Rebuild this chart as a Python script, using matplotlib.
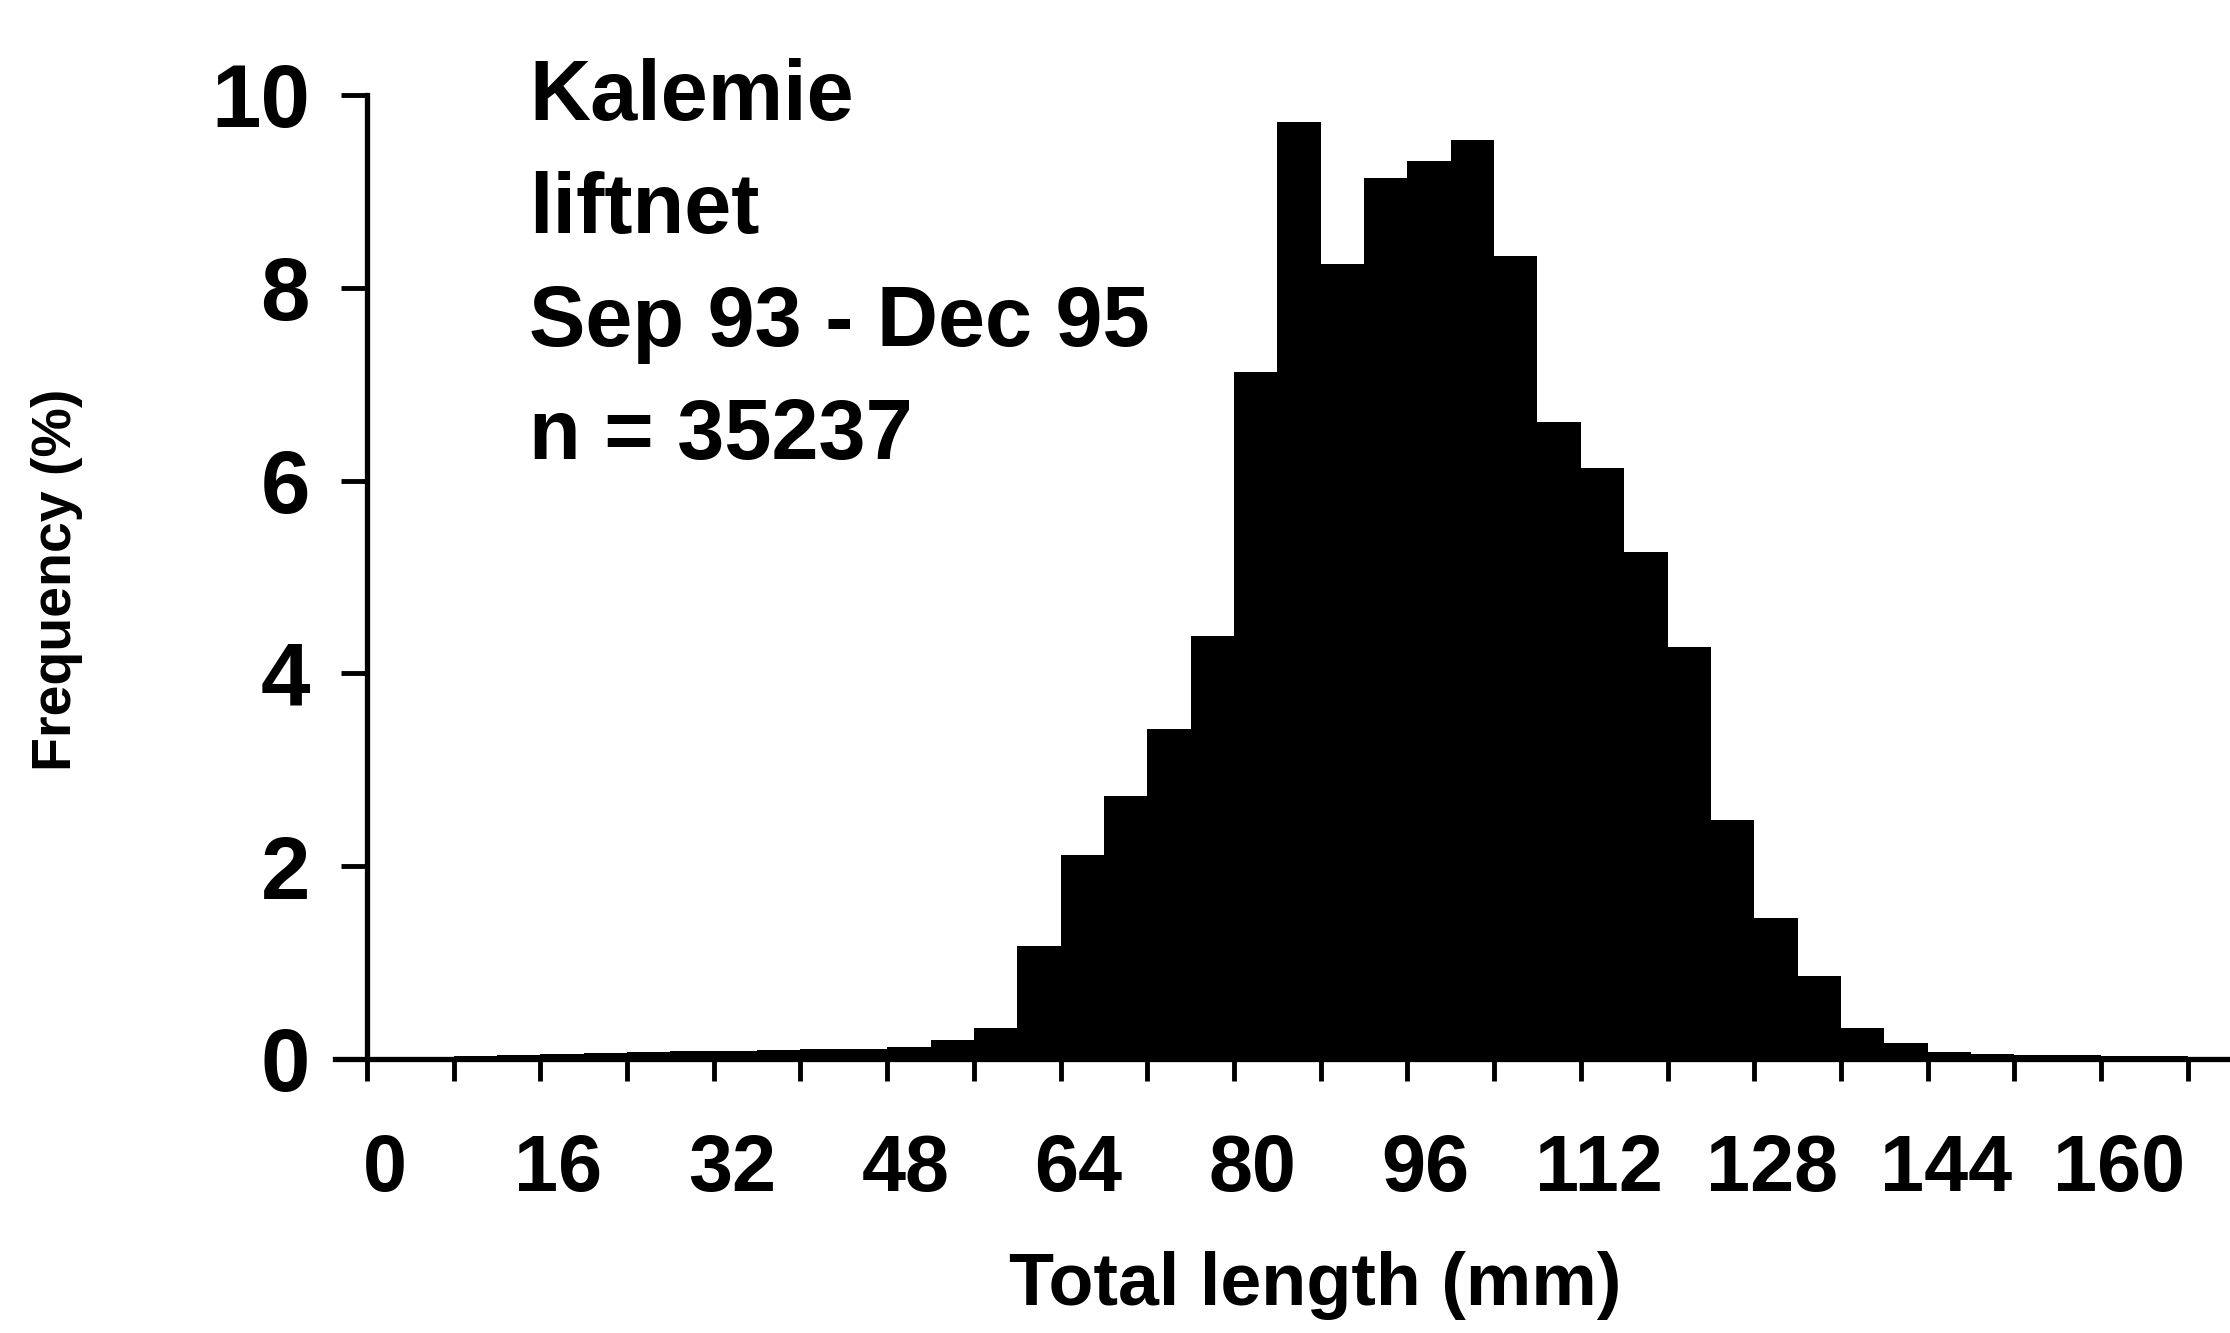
import numpy as np
import matplotlib
matplotlib.use("Agg")
import matplotlib.pyplot as plt
import matplotlib.transforms as mtransforms

# ── Data: length-frequency of the liftnet catch (4 mm classes) ──────────────
bin_start = list(range(0, 172, 4))
freq_pct = [0.02, 0.02, 0.03, 0.04, 0.05, 0.06, 0.07, 0.08, 0.08, 0.09,
            0.10, 0.10, 0.12, 0.20, 0.32, 1.17, 2.12, 2.73, 3.42, 4.39,
            7.13, 9.72, 8.25, 9.14, 9.32, 9.53, 8.33, 6.61, 6.13, 5.26,
            4.27, 2.48, 1.46, 0.86, 0.32, 0.17, 0.07, 0.05, 0.04, 0.04,
            0.03, 0.03, 0.02]
x_ticks = list(range(0, 169, 8))
x_labels = [str(t) if t % 16 == 0 and t <= 160 else "" for t in x_ticks]
y_ticks = [0, 2, 4, 6, 8, 10]
info_lines = ["Kalemie", "liftnet", "Sep 93 - Dec 95", "n = 35237"]

# ── Canvas ──────────────────────────────────────────────────────────────────
W, H, DPI = 2230, 1333, 100
FONT = ["Liberation Sans", "DejaVu Sans"]

fig = plt.figure(figsize=(W / DPI, H / DPI), dpi=DPI)
fig.patch.set_facecolor("white")
ax = fig.add_axes([335 / W, 1 - 1059 / H, 1 - 335 / W, (1059 - 95) / H])

ax.bar(bin_start, freq_pct, width=4, align="edge", color="black",
       edgecolor="none", zorder=2)

ax.set_xlim(-2.95, 171.9)
ax.set_ylim(0, 10)

for s in ["top", "right"]:
    ax.spines[s].set_visible(False)
ax.spines["left"].set_position(("data", 0))
ax.spines["left"].set_linewidth(3.8)
ax.spines["bottom"].set_linewidth(3.8)
ax.spines["left"].set_zorder(3)
ax.spines["bottom"].set_zorder(3)

ax.set_xticks(x_ticks)
ax.set_xticklabels(x_labels)
ax.set_yticks(y_ticks)
ax.set_yticklabels([str(v) for v in y_ticks])
ax.tick_params(axis="x", direction="out", length=16, width=3.5, pad=37)
ax.tick_params(axis="y", direction="out", length=19, width=3.5, pad=22)

for lab in ax.get_xticklabels():
    lab.set_fontfamily(FONT)
    lab.set_fontweight("bold")
    lab.set_fontsize(57)
    lab.set_transform(lab.get_transform() +
                      mtransforms.ScaledTranslation(0.18, 0, fig.dpi_scale_trans))
for lab in ax.get_yticklabels():
    lab.set_fontfamily(FONT)
    lab.set_fontweight("bold")
    lab.set_fontsize(64)

# ── Axis titles ─────────────────────────────────────────────────────────────
fig.text(1315 / W, 1 - 1285 / H, "Total length (mm)", ha="center", va="center",
         fontsize=53, fontweight="bold", family=FONT)
fig.text(57 / W, 1 - 580 / H, "Frequency (%)", ha="center", va="center",
         rotation=90, fontsize=40, fontweight="bold", family=FONT)

# ── Info block ──────────────────────────────────────────────────────────────
baselines = [120, 233, 346, 459]
for txt, b in zip(info_lines, baselines):
    fig.text(529 / W, 1 - b / H, txt, ha="left", va="baseline",
             fontsize=61, fontweight="bold", family=FONT)

fig.savefig("out.png", dpi=DPI, facecolor="white")
plt.close(fig)
